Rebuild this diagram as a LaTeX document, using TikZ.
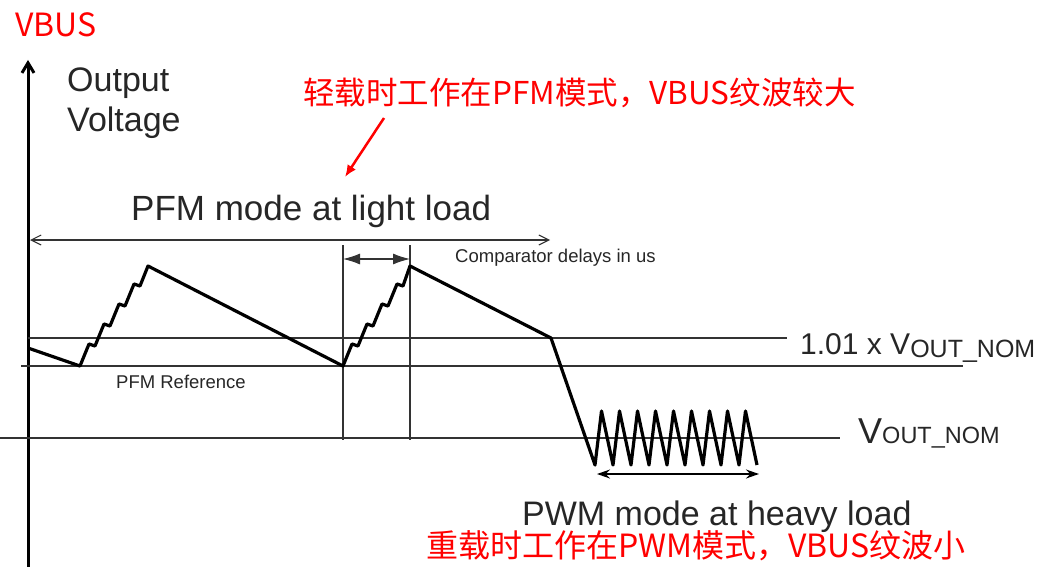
\documentclass[tikz,border=0pt]{standalone}
\usepackage{fontspec}
\setmainfont{Liberation Sans}
\newfontfamily\cjk{Noto Sans CJK SC}
\usetikzlibrary{arrows.meta}
\def\fsz#1{\fontsize{#1}{#1}\selectfont}

\begin{document}
\begin{tikzpicture}[x=1pt, y=-1pt,
		refline/.style={line width=1.1pt, color=black!80},
		wave/.style={line width=3.2pt, line join=round},
		lbl/.style={inner sep=0pt, anchor=base west, color=black!85},
		redlbl/.style={inner sep=0pt, anchor=base west, color=red, font=\cjk\fsz{32}}]
		%%%%% START %%%%%
		
		\useasboundingbox (0,0) rectangle (1046,567);
		
		\coordinate (axisbot) at (28,567);
		\coordinate (axistop) at (28,60);
		\draw[line width=3pt, -{Straight Barb[length=10pt,width=12pt]}] (axisbot) -- (axistop);
		
		\draw[refline] (28,338) -- (787,338);
		\draw[refline] (21,366) -- (963,366);
		\draw[refline] (0,438) -- (840,438);
		\draw[refline] (343,245) -- (343,440);
		\draw[refline] (410,245) -- (410,440);
		
		\coordinate (pfmL) at (30,240);
		\coordinate (pfmR) at (550,240);
		\draw[refline, {Straight Barb[length=10pt,width=10pt]}-{Straight Barb[length=10pt,width=10pt]}] (pfmL) -- (pfmR);
		
		\coordinate (dlyL) at (343,259);
		\coordinate (dlyR) at (410,259);
		\draw[refline, {Latex[length=17pt,width=11pt]}-{Latex[length=17pt,width=11pt]}] (dlyL) -- (dlyR);
		
		\coordinate (pwmL) at (597,474);
		\coordinate (pwmR) at (759,474);
		\draw[line width=1.5pt, {Stealth[length=13pt,width=9pt]}-{Stealth[length=13pt,width=9pt]}] (pwmL) -- (pwmR);
		
		\draw[wave] (28,348) -- (80,366)
			foreach \i in {1,...,4} { -- ++(9,-22) -- ++(6,2) } -- (148,266)
			-- (343,366)
			foreach \i in {1,...,4} { -- ++(9,-22) -- ++(6,2) } -- (410,266)
			-- (551,338) -- (595,465)
			foreach \k in {1,...,9} { -- ++(6.5,-54) -- ++(11.5,54) };
		
		\node[redlbl] (vbus) at (15,37) {VBUS};
		\node[lbl, anchor=north west, align=left, font=\fontsize{34}{40}\selectfont] (outv) at (67,68) {Output\\Voltage};
		
		\node[redlbl, font=\cjk\fsz{31.5}] (pfmnote) at (303,105) {轻载时工作在PFM模式，VBUS纹波较大};
		\coordinate (notefrom) at (384,118);
		\coordinate (noteto) at (345,177);
		\draw[line width=2.5pt, red, -{Latex[length=12pt,width=10pt]}] (notefrom) -- (noteto);
		
		\node[lbl, font=\fsz{35}] (pfmmode) at (131,220) {PFM mode at light load};
		\node[lbl, font=\fsz{18.5}] (cmpdly) at (455,262) {Comparator delays in us};
		\node[lbl, font=\fsz{18.5}] (pfmref) at (116,388) {PFM Reference};
		
		\node[lbl, font=\fsz{30}] (vhigh) at (800,354) {1.01 x V\raisebox{-3pt}{\fsz{25}OUT\_NOM}};
		\node[lbl, font=\fsz{36}] (vnom) at (858,443) {V{\fsz{23.5}OUT\_NOM}};
		
		\node[lbl, font=\fsz{34}] (pwmmode) at (522,525) {PWM mode at heavy load};
		\node[redlbl] (pwmnote) at (426,557) {重载时工作在PWM模式，VBUS纹波小};
		
		%%%%% END %%%%%
	\end{tikzpicture}
\end{document}
